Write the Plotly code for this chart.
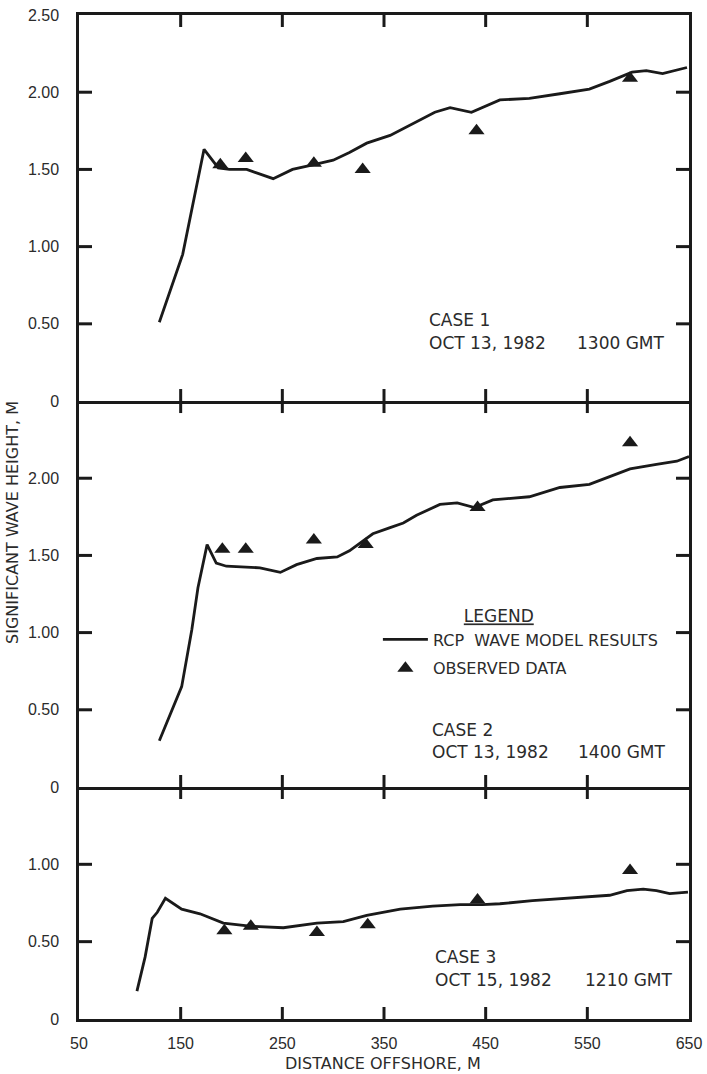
import plotly.graph_objects as go

# ---------------- data ----------------
case1_line_x = [129, 152, 173, 187, 198, 215, 241, 260, 280, 300, 316, 333, 356, 382, 400, 415, 436, 464, 493, 523, 552, 572, 594, 608, 624, 648]
case1_line_y = [0.51, 0.95, 1.63, 1.51, 1.50, 1.50, 1.44, 1.50, 1.53, 1.56, 1.61, 1.67, 1.72, 1.81, 1.87, 1.90, 1.87, 1.95, 1.96, 1.99, 2.02, 2.07, 2.13, 2.14, 2.12, 2.16]
case1_obs_x = [189, 214, 281, 329, 441, 592]
case1_obs_y = [1.53, 1.57, 1.54, 1.50, 1.75, 2.09]

case2_line_x = [129, 151, 161, 167, 176, 185, 195, 228, 248, 264, 284, 304, 316, 339, 356, 369, 382, 405, 422, 439, 457, 493, 523, 552, 572, 592, 618, 638, 650]
case2_line_y = [0.30, 0.65, 1.02, 1.29, 1.57, 1.45, 1.43, 1.42, 1.39, 1.44, 1.48, 1.49, 1.53, 1.64, 1.68, 1.71, 1.76, 1.83, 1.84, 1.81, 1.86, 1.88, 1.94, 1.96, 2.01, 2.06, 2.09, 2.11, 2.14]
case2_obs_x = [191, 214, 281, 332, 442, 592]
case2_obs_y = [1.54, 1.54, 1.60, 1.57, 1.81, 2.23]

case3_line_x = [107, 115, 122, 127, 135, 151, 169, 192, 218, 251, 284, 310, 333, 366, 398, 425, 447, 464, 496, 546, 572, 589, 605, 618, 631, 649]
case3_line_y = [0.18, 0.40, 0.65, 0.69, 0.78, 0.71, 0.68, 0.62, 0.60, 0.59, 0.62, 0.63, 0.67, 0.71, 0.73, 0.74, 0.74, 0.745, 0.765, 0.79, 0.80, 0.83, 0.84, 0.83, 0.81, 0.82]
case3_obs_x = [193, 219, 284, 334, 442, 592]
case3_obs_y = [0.57, 0.60, 0.56, 0.61, 0.77, 0.96]

x_ticks = [50, 150, 250, 350, 450, 550, 650]
x_ticklabels = ["50", "150", "250", "350", "450", "550", "650"]
y1_ticks = [0, 0.5, 1.0, 1.5, 2.0, 2.5]
y1_ticklabels = ["0", "0.50", "1.00", "1.50", "2.00", "2.50"]
y2_ticks = [0, 0.5, 1.0, 1.5, 2.0]
y2_ticklabels = ["0", "0.50", "1.00", "1.50", "2.00"]
y3_ticks = [0, 0.5, 1.0]
y3_ticklabels = ["0", "0.50", "1.00"]

case_titles = ["CASE 1", "CASE 2", "CASE 3"]
case_dates = ["OCT 13, 1982", "OCT 13, 1982", "OCT 15, 1982"]
case_times = ["1300 GMT", "1400 GMT", "1210 GMT"]

# ---------------- style / layout ----------------
INK = "#1a1a1a"
TXT = "#2b2b2b"
TICKFONT = dict(family="Liberation Sans, Arial, sans-serif", size=16, color=TXT)
ANNFONT = dict(family="DejaVu Sans, sans-serif", size=17, color=TXT)
LEGFONT = dict(family="DejaVu Sans, sans-serif", size=16, color=TXT)

FIG_W, FIG_H = 707, 1074
M_L, M_R, M_T, M_B = 79, 18, 15, 55
PLOT_W = FIG_W - M_L - M_R
PLOT_H = FIG_H - M_T - M_B

X_RANGE = [50, 650]
Y_RANGES = [[0, 2.5], [0, 2.5], [0, 1.5]]
DOMAINS = [[0.6155, 1.0], [0.2311, 0.6155], [0.0, 0.2311]]
XTICK_LEN = 12
YTICK_LEN = 13

fig = go.Figure()

panels = [
    (case1_line_x, case1_line_y, case1_obs_x, case1_obs_y, "x", "y", True),
    (case2_line_x, case2_line_y, case2_obs_x, case2_obs_y, "x2", "y2", False),
    (case3_line_x, case3_line_y, case3_obs_x, case3_obs_y, "x3", "y3", False),
]
for lx, ly, ox, oy, xa, ya, show in panels:
    fig.add_trace(go.Scatter(
        x=lx, y=ly, xaxis=xa, yaxis=ya, mode="lines",
        line=dict(color=INK, width=2.8),
        name="RCP\u00a0\u00a0WAVE MODEL RESULTS", legendgroup="a", showlegend=show))
    fig.add_trace(go.Scatter(
        x=ox, y=oy, xaxis=xa, yaxis=ya, mode="markers",
        marker=dict(symbol="triangle-up", size=14, color=INK),
        name="OBSERVED DATA", legendgroup="b", showlegend=show))

# tick marks (inside each panel, so they cross at the shared boundaries), built from the tick arrays
dx = (X_RANGE[1] - X_RANGE[0]) / PLOT_W
for (xa, ya, yt), yrng, dom in zip([("x", "y", y1_ticks), ("x2", "y2", y2_ticks), ("x3", "y3", y3_ticks)],
                                   Y_RANGES, DOMAINS):
    dy = (yrng[1] - yrng[0]) / ((dom[1] - dom[0]) * PLOT_H)
    tx, ty = [], []
    for v in x_ticks[1:-1]:
        tx += [v, v, None, v, v, None]
        ty += [yrng[0], yrng[0] + XTICK_LEN * dy, None, yrng[1], yrng[1] - XTICK_LEN * dy, None]
    for v in yt:
        if v <= yrng[0] or v >= yrng[1]:
            continue
        tx += [X_RANGE[0], X_RANGE[0] + YTICK_LEN * dx, None, X_RANGE[1], X_RANGE[1] - YTICK_LEN * dx, None]
        ty += [v, v, None, v, v, None]
    fig.add_trace(go.Scatter(x=tx, y=ty, xaxis=xa, yaxis=ya, mode="lines",
                             line=dict(color=INK, width=3), hoverinfo="skip",
                             showlegend=False, cliponaxis=False))

common_x = dict(range=X_RANGE, tickvals=x_ticks, ticktext=x_ticklabels,
                showline=True, linecolor=INK, linewidth=2.5,
                ticks="", showgrid=False, zeroline=False, tickfont=TICKFONT, domain=[0, 1])
common_y = dict(showline=True, linecolor=INK, linewidth=2.5, mirror=True,
                ticks="", showgrid=False, zeroline=False, tickfont=TICKFONT,
                ticklabelstandoff=14)

fig.update_layout(
    xaxis=dict(common_x, anchor="y", showticklabels=False, mirror=True),
    xaxis2=dict(common_x, anchor="y2", showticklabels=False, mirror=False),
    xaxis3=dict(common_x, anchor="y3", showticklabels=True, mirror=False, ticklabelstandoff=8),
    yaxis=dict(common_y, domain=DOMAINS[0], anchor="x", range=Y_RANGES[0], tickvals=y1_ticks, ticktext=y1_ticklabels),
    yaxis2=dict(common_y, domain=DOMAINS[1], anchor="x2", range=Y_RANGES[1], tickvals=y2_ticks, ticktext=y2_ticklabels),
    yaxis3=dict(common_y, domain=DOMAINS[2], anchor="x3", range=Y_RANGES[2], tickvals=y3_ticks, ticktext=y3_ticklabels),
    width=FIG_W, height=FIG_H,
    margin=dict(l=M_L, r=M_R, t=M_T, b=M_B, autoexpand=False),
    paper_bgcolor="white", plot_bgcolor="white",
    showlegend=True,
    legend=dict(
        x=0.49, y=0.417, xanchor="left", yanchor="top",
        bgcolor="rgba(0,0,0,0)", borderwidth=0,
        font=LEGFONT, itemwidth=45, traceorder="grouped", tracegroupgap=5,
        title=dict(text="<span style='text-decoration:underline'>LEGEND</span>" + "\u00a0" * 8,
                   side="top center", font=dict(family="DejaVu Sans, sans-serif", size=17, color=TXT)),
    ),
)

annotations = []
case_y = [(0.525, 0.376, "x", "y"), (0.37, 0.227, "x2", "y2"), (0.40, 0.255, "x3", "y3")]
case_left = [392, 395, 398]
time_left = [538, 539, 546]
for i, (yt, yd, xr, yr) in enumerate(case_y):
    annotations.append(dict(x=case_left[i], y=yt, xref=xr, yref=yr, text=case_titles[i],
                            showarrow=False, xanchor="left", yanchor="middle", font=ANNFONT))
    annotations.append(dict(x=case_left[i], y=yd, xref=xr, yref=yr, text=case_dates[i],
                            showarrow=False, xanchor="left", yanchor="middle", font=ANNFONT))
    annotations.append(dict(x=time_left[i], y=yd, xref=xr, yref=yr, text=case_times[i],
                            showarrow=False, xanchor="left", yanchor="middle", font=ANNFONT))

annotations.append(dict(x=-0.11, y=0.495, xref="paper", yref="paper",
                        text="SIGNIFICANT WAVE HEIGHT, M", textangle=-90, showarrow=False,
                        xanchor="center", yanchor="middle",
                        font=dict(family="DejaVu Sans, sans-serif", size=16, color=TXT)))
annotations.append(dict(x=0.498, y=-0.044, xref="paper", yref="paper",
                        text="DISTANCE OFFSHORE, M", showarrow=False,
                        xanchor="center", yanchor="middle",
                        font=dict(family="DejaVu Sans, sans-serif", size=16, color=TXT)))
fig.update_layout(annotations=annotations)

fig.write_html("out.html")
